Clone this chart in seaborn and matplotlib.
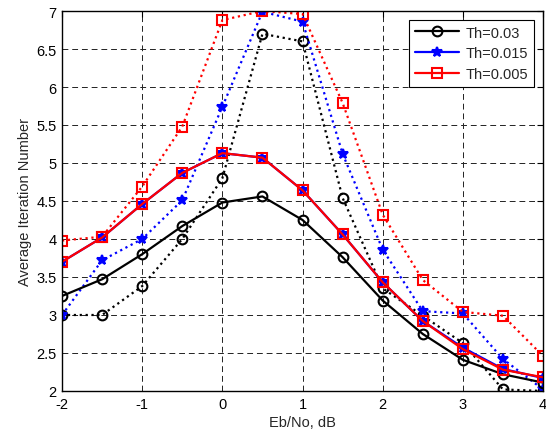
import matplotlib
matplotlib.use("Agg")
import matplotlib.pyplot as plt
import seaborn as sns
import numpy as np

ebno = [-2, -1.5, -1, -0.5, 0, 0.5, 1, 1.5, 2, 2.5, 3, 3.5, 4]

th003_solid = [3.25, 3.47, 3.80, 4.17, 4.48, 4.56, 4.25, 3.76, 3.19, 2.75, 2.41, 2.22, 2.11]
th003_dotted = [3.00, 3.00, 3.38, 4.00, 4.80, 6.70, 6.60, 4.54, 3.35, 2.99, 2.63, 2.02, 2.00]
th0015_solid = [3.70, 4.02, 4.46, 4.87, 5.13, 5.07, 4.64, 4.06, 3.43, 2.92, 2.57, 2.29, 2.17]
th0015_dotted = [3.00, 3.72, 4.00, 4.51, 5.74, 6.99, 6.86, 5.12, 3.86, 3.05, 3.02, 2.42, 2.02]
th0005_solid = [3.70, 4.02, 4.46, 4.87, 5.13, 5.07, 4.64, 4.06, 3.43, 2.92, 2.55, 2.28, 2.18]
th0005_dotted = [3.98, 4.03, 4.69, 5.48, 6.88, 7.00, 6.96, 5.79, 4.32, 3.46, 3.04, 2.99, 2.46]

labels = ["Th=0.03", "Th=0.015", "Th=0.005"]
xticks = [-2, -1, 0, 1, 2, 3, 4]
yticks = [2, 2.5, 3, 3.5, 4, 4.5, 5, 5.5, 6, 6.5, 7]

sns.set_style("white")
plt.rcParams['font.family'] = ['Liberation Sans', 'DejaVu Sans']

fig = plt.figure(figsize=(5.46, 4.35), dpi=100)
ax = fig.add_axes([0.1136, 0.0989, 0.881, 0.8735])

styles = [
    (th003_dotted, "black", "o", ":", None, dict(markerfacecolor="none", markeredgecolor="black", markersize=7)),
    (th0015_dotted, "blue", "*", ":", None, dict(markerfacecolor="blue", markeredgecolor="blue", markersize=7)),
    (th0005_dotted, "red", "s", ":", None, dict(markerfacecolor="none", markeredgecolor="red", markersize=7.5)),
    (th003_solid, "black", "o", "-", labels[0], dict(markerfacecolor="none", markeredgecolor="black", markersize=7)),
    (th0015_solid, "blue", "*", "-", labels[1], dict(markerfacecolor="blue", markeredgecolor="blue", markersize=7)),
    (th0005_solid, "red", "s", "-", labels[2], dict(markerfacecolor="none", markeredgecolor="red", markersize=7.5)),
]

for vals, col, mk, ls, lab, kw in styles:
    sns.lineplot(x=ebno, y=vals, color=col, marker=mk, linestyle=ls, linewidth=1.6,
                 markeredgewidth=1.5, label=lab, ax=ax, legend=False, **kw)

ax.set_xlim(-2, 4)
ax.set_ylim(2, 7)
ax.set_xticks(xticks)
ax.set_yticks(yticks)
ax.set_xticklabels([str(t) for t in xticks])
ax.set_yticklabels([("%g" % t) for t in yticks])
ax.tick_params(direction="in", top=True, right=True, length=4, width=0.8, labelsize=10.5, colors="black", pad=4)
ax.grid(True, color="#222222", linestyle=(0, (6, 4)), linewidth=0.7)
for s in ax.spines.values():
    s.set_color("black")
    s.set_linewidth(1.0)
ax.set_xlabel("Eb/No, dB", fontsize=10.5, labelpad=3)
ax.set_ylabel("Average Iteration Number", fontsize=10.5, labelpad=3)

handles, labs = ax.get_legend_handles_labels()
leg = ax.legend(handles, labs, loc="upper right", fontsize=10.5, frameon=True, fancybox=False,
                edgecolor="black", framealpha=1, borderaxespad=0.6, handlelength=3.0,
                labelspacing=0.45, borderpad=0.4, handletextpad=0.5)
leg.get_frame().set_linewidth(0.8)

fig.savefig("out.png", dpi=100)
